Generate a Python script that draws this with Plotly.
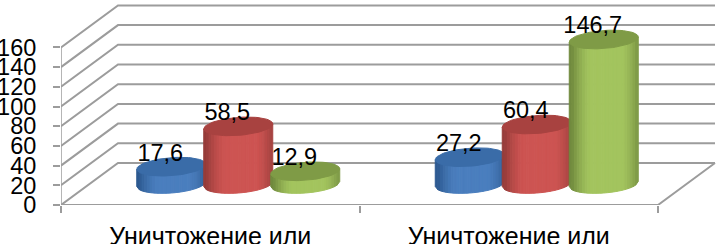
import numpy as np
import plotly.graph_objects as go

categories = ["Уничтожение или", "Уничтожение или"]
series_names = ["Ряд 1", "Ряд 2", "Ряд 3"]
series_a = [17.6, 27.2]
series_b = [58.5, 60.4]
series_c = [12.9, 146.7]
y_ticks = [0, 20, 40, 60, 80, 100, 120, 140, 160]

body_rgb = [(74, 126, 190), (205, 84, 82), (163, 196, 94)]
edge_rgb = [(45, 90, 145), (150, 60, 58), (112, 138, 62)]
top_rgb = [(58, 108, 168), (168, 66, 64), (127, 155, 70)]

GRID = "#9c9c9c"
FONT = "Liberation Sans"
W, H = 721, 244
L, B = 61, 39
PX_X = 298.5          # pixels per category
PX_Y = 0.985          # pixels per value unit
DX, DY = 57 / PX_X, 42 / PX_Y   # depth of the chart box
STEP = 67 / PX_X      # spacing of the cylinders
A = 34.5 / PX_X       # ellipse half-width
E = 9 / PX_Y          # ellipse half-height
TILT = 2.5 / PX_Y
SHIFT = -0.5 / PX_X
N = 26

fig = go.Figure()

def line(xs, ys, width=2, color=GRID):
    fig.add_trace(go.Scatter(x=xs, y=ys, mode="lines", hoverinfo="skip", showlegend=False,
                             line=dict(color=color, width=width), cliponaxis=False))

# chart box: walls, floor and axes
for v in y_ticks:
    line([0, DX, 2 + DX], [v, v + DY, v + DY])
line([0, 0], [y_ticks[0], y_ticks[-1]], width=1.5)
line([0, 2, 2 + DX], [0, 0, DY])

def mix(a, b, k):
    return "rgb(%d,%d,%d)" % tuple(round(a[i] + (b[i] - a[i]) * k) for i in range(3))

def cylinder(cx, value, s):
    base = DY / 2
    us = np.linspace(-1, 1, N + 1)
    for u0, u1 in zip(us[:-1], us[1:]):
        mid = (u0 + u1) / 2
        k = min(1.0, max(0.0, (abs(mid - 0.08) - 0.45) / 0.55)) ** 1.5
        col = mix(body_rgb[s], edge_rgb[s], k)
        arc = lambda u: base - E * np.sqrt(max(0, 1 - u * u)) + TILT * u
        top = lambda u: base + value + TILT * u
        xs = [cx + A * u0, cx + A * u1, cx + A * u1, cx + A * u0, cx + A * u0]
        ys = [arc(u0), arc(u1), top(u1), top(u0), arc(u0)]
        fig.add_trace(go.Scatter(x=xs, y=ys, mode="lines", fill="toself", fillcolor=col,
                                 line=dict(color=col, width=1), hoverinfo="skip",
                                 showlegend=False))
    t = np.linspace(0, 2 * np.pi, 73)
    fig.add_trace(go.Scatter(x=cx + A * np.cos(t),
                             y=base + value + E * np.sin(t) + TILT * np.cos(t),
                             mode="lines", fill="toself", fillcolor=mix(top_rgb[s], top_rgb[s], 0),
                             line=dict(color=mix(top_rgb[s], top_rgb[s], 0), width=1),
                             hoverinfo="skip", showlegend=False))

label_x, label_y, label_text = [], [], []
for c in range(len(categories)):
    for s, vals in enumerate([series_a, series_b, series_c]):
        cx = c + 0.5 + DX / 2 + SHIFT + (s - 1) * STEP
        cylinder(cx, vals[c], s)
        label_x.append(cx - 11 / PX_X)
        label_y.append(DY / 2 + vals[c] + 12 / PX_Y)
        label_text.append(f"{vals[c]:.1f}".replace(".", ","))

fig.add_trace(go.Scatter(x=label_x, y=label_y, text=label_text, mode="text",
                         textposition="middle center", hoverinfo="skip", showlegend=False,
                         textfont=dict(family=FONT, size=23.5, color="#000000"),
                         cliponaxis=False))

fig.update_layout(
    width=W, height=H, autosize=False, showlegend=False,
    margin=dict(l=L, r=0, t=0, b=B, pad=0),
    paper_bgcolor="#ffffff", plot_bgcolor="#ffffff",
    xaxis=dict(range=[0, (W - L) / PX_X], showgrid=False, zeroline=False, showline=False,
               automargin=False,
               tickmode="array", tickvals=[0.5, 1.5], ticktext=categories, ticks="",
               minor=dict(tickmode="array", tickvals=[0, 1, 2], ticks="outside", ticklen=7,
                          tickcolor=GRID, tickwidth=1.5),
               tickfont=dict(family=FONT, size=25, color="#000000"), ticklabelstandoff=14),
    yaxis=dict(range=[0, (H - B) / PX_Y], showgrid=False, zeroline=False, showline=False,
               automargin=False,
               tickmode="array", tickvals=y_ticks, ticks="outside", ticklen=7,
               tickcolor=GRID, tickwidth=1.5,
               tickfont=dict(family=FONT, size=23.5, color="#000000"), ticklabelstandoff=12),
)

fig.write_html("out.html", config={"displayModeBar": False},
               post_script="document.body.style.margin='0';document.documentElement.style.overflow='hidden';")
